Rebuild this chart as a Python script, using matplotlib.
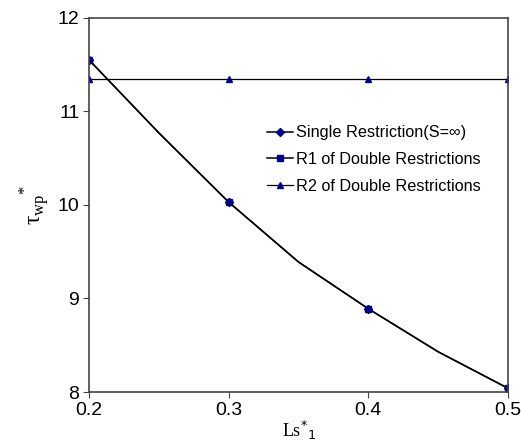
import numpy as np
import matplotlib
matplotlib.use('Agg')
import matplotlib.pyplot as plt

# data
ls1 = [0.2, 0.25, 0.3, 0.35, 0.4, 0.45, 0.5]
single = [11.55, 10.77, 10.03, 9.39, 8.89, 8.43, 8.04]
r1 = [11.55, 10.77, 10.03, 9.39, 8.89, 8.43, 8.04]
ls1_r2 = [0.2, 0.3, 0.4, 0.5]
r2 = [11.35, 11.35, 11.35, 11.35]

plt.rcParams['font.family'] = 'Liberation Sans'
navy = '#00008B'

fig = plt.figure(figsize=(5.21, 4.48), dpi=100)
ax = fig.add_axes([0.171, 0.125, 0.804, 0.835])

ax.plot(ls1, r1, '-', color='black', lw=1.1, marker='s', ms=4,
        mfc=navy, mec=navy, markevery=[0, 2, 4, 6],
        label='R1 of Double Restrictions')
ax.plot(ls1, single, '-', color='black', lw=1.1, marker='D', ms=4.5,
        mfc=navy, mec=navy, markevery=[0, 2, 4, 6],
        label='Single Restriction(S=\u221e)')
ax.plot(ls1_r2, r2, '-', color='black', lw=0.9, marker='^', ms=5,
        mfc=navy, mec=navy, label='R2 of Double Restrictions')

ax.set_xlim(0.2, 0.5)
ax.set_ylim(8, 12)
ax.set_xticks([0.2, 0.3, 0.4, 0.5])
ax.set_xticklabels(['0.2', '0.3', '0.4', '0.5'])
ax.set_yticks([8, 9, 10, 11, 12])
ax.tick_params(labelsize=14, direction='out', length=4, color='#444444', pad=3)
for s in ax.spines.values():
    s.set_color('#444444')
    s.set_linewidth(1.2)

ax.set_xlabel(r'Ls$^{*}$$_{1}$', family='Liberation Serif', fontsize=13, labelpad=0)
ax.set_ylabel('\u03c4$_{\\mathregular{wp}}$$^{\\mathregular{*}}$', family='Liberation Serif',
              fontsize=17, labelpad=4)

h, l = ax.get_legend_handles_labels()
order = [1, 0, 2]
ax.legend([h[i] for i in order], [l[i] for i in order], frameon=False,
          loc='upper left', bbox_to_anchor=(0.484, 0.753), bbox_transform=fig.transFigure,
          fontsize=11.7, handlelength=1.6, handletextpad=0.2, labelspacing=0.72)

fig.savefig('out.png', dpi=100)
